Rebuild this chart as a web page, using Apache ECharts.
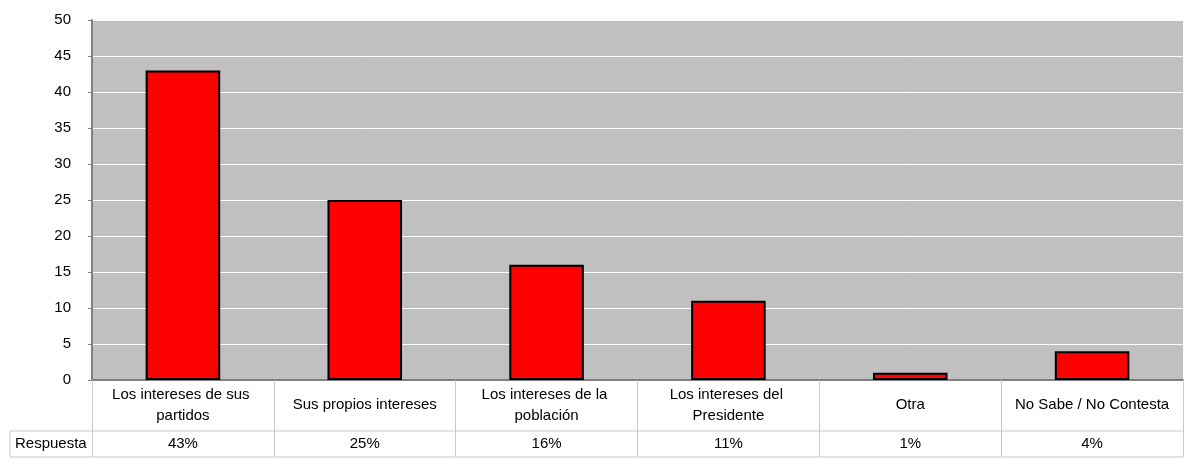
<!DOCTYPE html>
<html><head><meta charset="utf-8">
<script src="https://cdn.jsdelivr.net/npm/echarts@6/dist/echarts.min.js"></script>
<style>html,body{margin:0;padding:0;background:#fff}#c{width:1187px;height:471px}</style>
</head><body><div id="c"></div>
<script>
var categories = ["Los intereses de sus partidos","Sus propios intereses","Los intereses de la población","Los intereses del Presidente","Otra","No Sabe / No Contesta"];
var values = [43, 25, 16, 11, 1, 4];
var pctLabels = ["43%","25%","16%","11%","1%","4%"];
var rowLabel = "Respuesta";
var yTicks = [0, 5, 10, 15, 20, 25, 30, 35, 40, 45, 50];

var FONT = 'Liberation Sans, Arial, sans-serif';
var FS = 15;
var GL = 92, GR = 1183, GT = 20, GB = 380, ROW1 = 431, ROW2 = 457, TL = 10;
var lineCol = '#c8c8c8';
var chart = echarts.init(document.getElementById('c'));
chart.setOption({
  animation: false,
  grid: {left: GL, right: 1187 - GR, top: GT, bottom: 471 - GB, show: true, backgroundColor: '#c0c0c0', borderWidth: 0},
  xAxis: [{
    type: 'category', data: categories, position: 'bottom',
    axisLine: {show: true, lineStyle: {color: '#808080', width: 2}},
    axisTick: {show: true, alignWithLabel: false, interval: 0, length: ROW2 - GB, lineStyle: {color: lineCol, width: 1}},
    axisLabel: {interval: 0, margin: 25, verticalAlign: 'middle', lineHeight: 21, width: 172, overflow: 'break',
      fontFamily: FONT, fontSize: FS, color: '#000'}
  }, {
    type: 'category', data: pctLabels, position: 'bottom',
    axisLine: {show: false}, axisTick: {show: false},
    axisLabel: {interval: 0, margin: 64, verticalAlign: 'middle', fontFamily: FONT, fontSize: FS, color: '#000'}
  }],
  yAxis: {
    type: 'value', min: yTicks[0], max: yTicks[yTicks.length - 1], interval: 5,
    axisLine: {show: true, lineStyle: {color: '#808080', width: 2}},
    axisTick: {show: true, length: 4, lineStyle: {color: '#808080'}},
    axisLabel: {margin: 21, fontFamily: FONT, fontSize: FS, color: '#000'},
    splitLine: {show: true, lineStyle: {color: '#ffffff', width: 1}}
  },
  series: [{
    type: 'bar', data: values, barWidth: '41%', xAxisIndex: 0,
    itemStyle: {color: '#ff0000', borderColor: '#000', borderWidth: 2}
  }],
  graphic: [
    {type: 'line', shape: {x1: TL, y1: ROW1, x2: GR, y2: ROW1}, style: {stroke: lineCol, lineWidth: 1}},
    {type: 'line', shape: {x1: TL, y1: ROW2, x2: GR, y2: ROW2}, style: {stroke: lineCol, lineWidth: 1}},
    {type: 'line', shape: {x1: TL, y1: ROW1, x2: TL, y2: ROW2}, style: {stroke: lineCol, lineWidth: 1}},
    {type: 'text', x: TL + 5, y: (ROW1 + ROW2) / 2, style: {text: rowLabel, font: FS + 'px ' + FONT, fill: '#000', textVerticalAlign: 'middle', verticalAlign: 'middle'}}
  ]
});
</script></body></html>
